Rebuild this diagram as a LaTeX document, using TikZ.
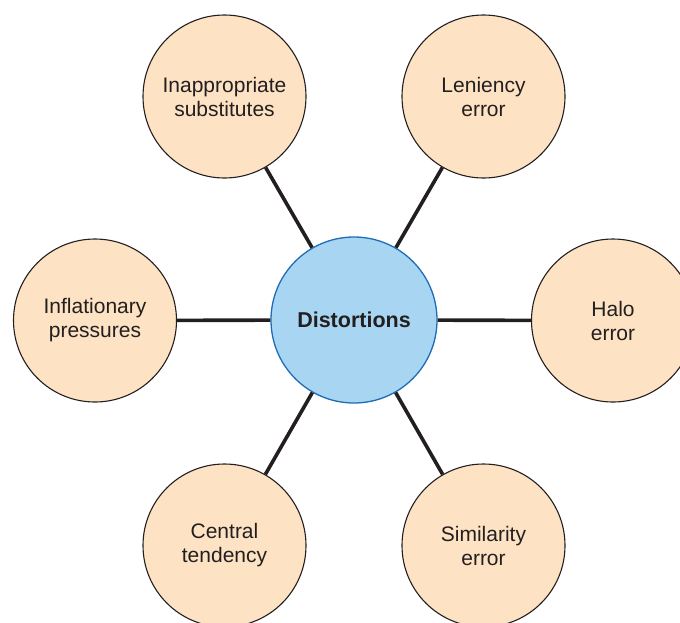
\documentclass[tikz,border=0pt]{standalone}
\usepackage{fontspec}
\setmainfont{Liberation Sans}
\definecolor{peach}{HTML}{FDE3C4}
\definecolor{skyb}{HTML}{A8D5F1}
\definecolor{bluedge}{HTML}{1F6DB5}
\definecolor{ink}{HTML}{231F20}
\tikzset{
  outer/.style={circle, draw=ink, line width=1.1pt, fill=peach, minimum size=163pt, inner sep=0pt,
    align=center, text=ink, font=\fontsize{21}{24}\selectfont},
  hub/.style={circle, draw=bluedge, line width=1.3pt, fill=skyb, minimum size=166pt, inner sep=0pt,
    align=center, text=ink, font=\fontsize{21.5}{24}\selectfont\bfseries},
  link/.style={draw=ink, line width=3.6pt}
}
\begin{document}
\begin{tikzpicture}[x=1pt,y=-1pt]
\useasboundingbox (0,0) rectangle (680,622);
\clip (0,0) rectangle (680,622);
\node[hub] (c) at (354,320) {Distortions};
\node[outer] (sub) at (224.5,96.5) {Inappropriate\\substitutes};
\node[outer] (len) at (483.5,96.5) {Leniency\\error};
\node[outer] (inf) at (95,320.5) {Inflationary\\pressures};
\node[outer] (halo) at (613,320.5) {Halo\\error};
\node[outer] (cen) at (224.5,545.5) {Central\\tendency};
\node[outer] (sim) at (483.5,545.5) {Similarity\\error};
\foreach \n in {sub,len,inf,halo,cen,sim}{
  \draw[link] (c) -- (\n);
}
\end{tikzpicture}
\end{document}
